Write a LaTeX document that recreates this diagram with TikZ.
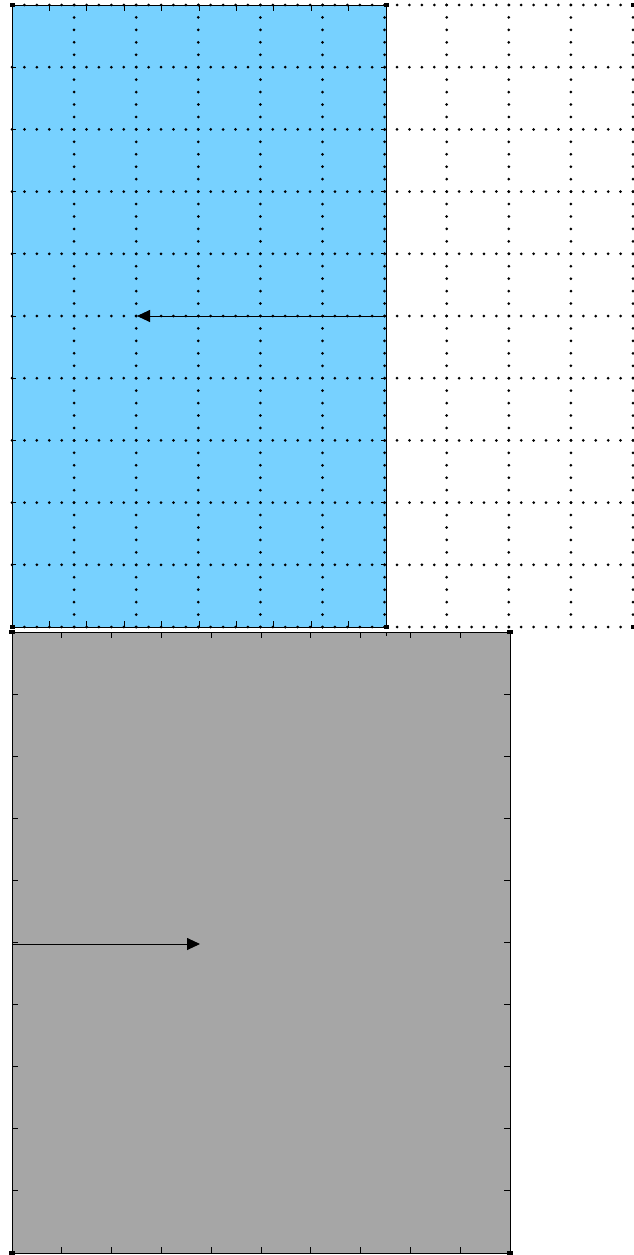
\documentclass[tikz,border=0pt]{standalone}
\usetikzlibrary{arrows.meta}
\definecolor{panelblue}{RGB}{119,209,255}
\definecolor{panelgrey}{RGB}{166,166,166}
\tikzset{
  gdot/.style={fill=black},
  frame/.style={draw=black,line width=0.9pt},
  tick/.style={draw=black,line width=0.9pt},
  cornersq/.style={fill=black},
  arr/.style={draw=black,line width=0.9pt,-{Triangle[length=13pt,width=12pt]}}
}
\begin{document}
\begin{tikzpicture}[x=1pt,y=-1pt]
\useasboundingbox (0,0) rectangle (633,1255);
% blue panel
\fill[panelblue] (12,5) rectangle (386,627);
% dotted grid
\foreach \j in {0,...,10}{
  \foreach \i in {0,...,50}{
    \fill[gdot] ({12+12.42*\i},{5+62.2*\j}) ++(-1.5,0) -- ++(1.5,-1.5) -- ++(1.5,1.5) -- ++(-1.5,1.5) -- cycle;
  }
}
\foreach \k in {1,...,10}{
  \foreach \i in {0,...,50}{
    \fill[gdot] ({12+62.1*\k},{5+12.44*\i}) ++(-1.5,0) -- ++(1.5,-1.5) -- ++(1.5,1.5) -- ++(-1.5,1.5) -- cycle;
  }
}
\draw[frame] (12,5) rectangle (386,627);
\foreach \k in {1,...,9}{
  \draw[tick] ({12+37.4*\k},5) -- ++(0,6);
  \draw[tick] ({12+37.4*\k},627) -- ++(0,-6);
  \draw[tick] (12,{5+62.2*\k}) -- ++(4,0);
  \draw[tick] (386,{5+62.2*\k}) -- ++(-5,0);
}
\foreach \p in {(12,5),(386,5),(633,5),(12,627),(386,627),(633,627)}{
  \fill[cornersq] \p ++(-2.5,-2) rectangle ++(5,4);
}
\coordinate (a1s) at (386,316);
\coordinate (a1e) at (137,316);
\draw[arr] (a1s) -- (a1e);
% grey panel
\fill[panelgrey] (12,632) rectangle (510,1253);
\draw[frame] (12,632) rectangle (510,1253);
\foreach \k in {1,...,9}{
  \draw[tick] ({12+49.8*\k},632) -- ++(0,6);
  \draw[tick] ({12+49.8*\k},1253) -- ++(0,-6);
  \draw[tick] (12,{632+62.1*\k}) -- ++(6,0);
  \draw[tick] (510,{632+62.1*\k}) -- ++(-6,0);
}
\draw[tick] (386,632) -- ++(0,4);
\foreach \p in {(12,632),(510,632),(12,1253),(510,1253)}{
  \fill[cornersq] \p ++(-3,-2) rectangle ++(6,4);
}
\coordinate (a2s) at (12,944);
\coordinate (a2e) at (200,944);
\draw[arr] (a2s) -- (a2e);
\end{tikzpicture}
\end{document}
